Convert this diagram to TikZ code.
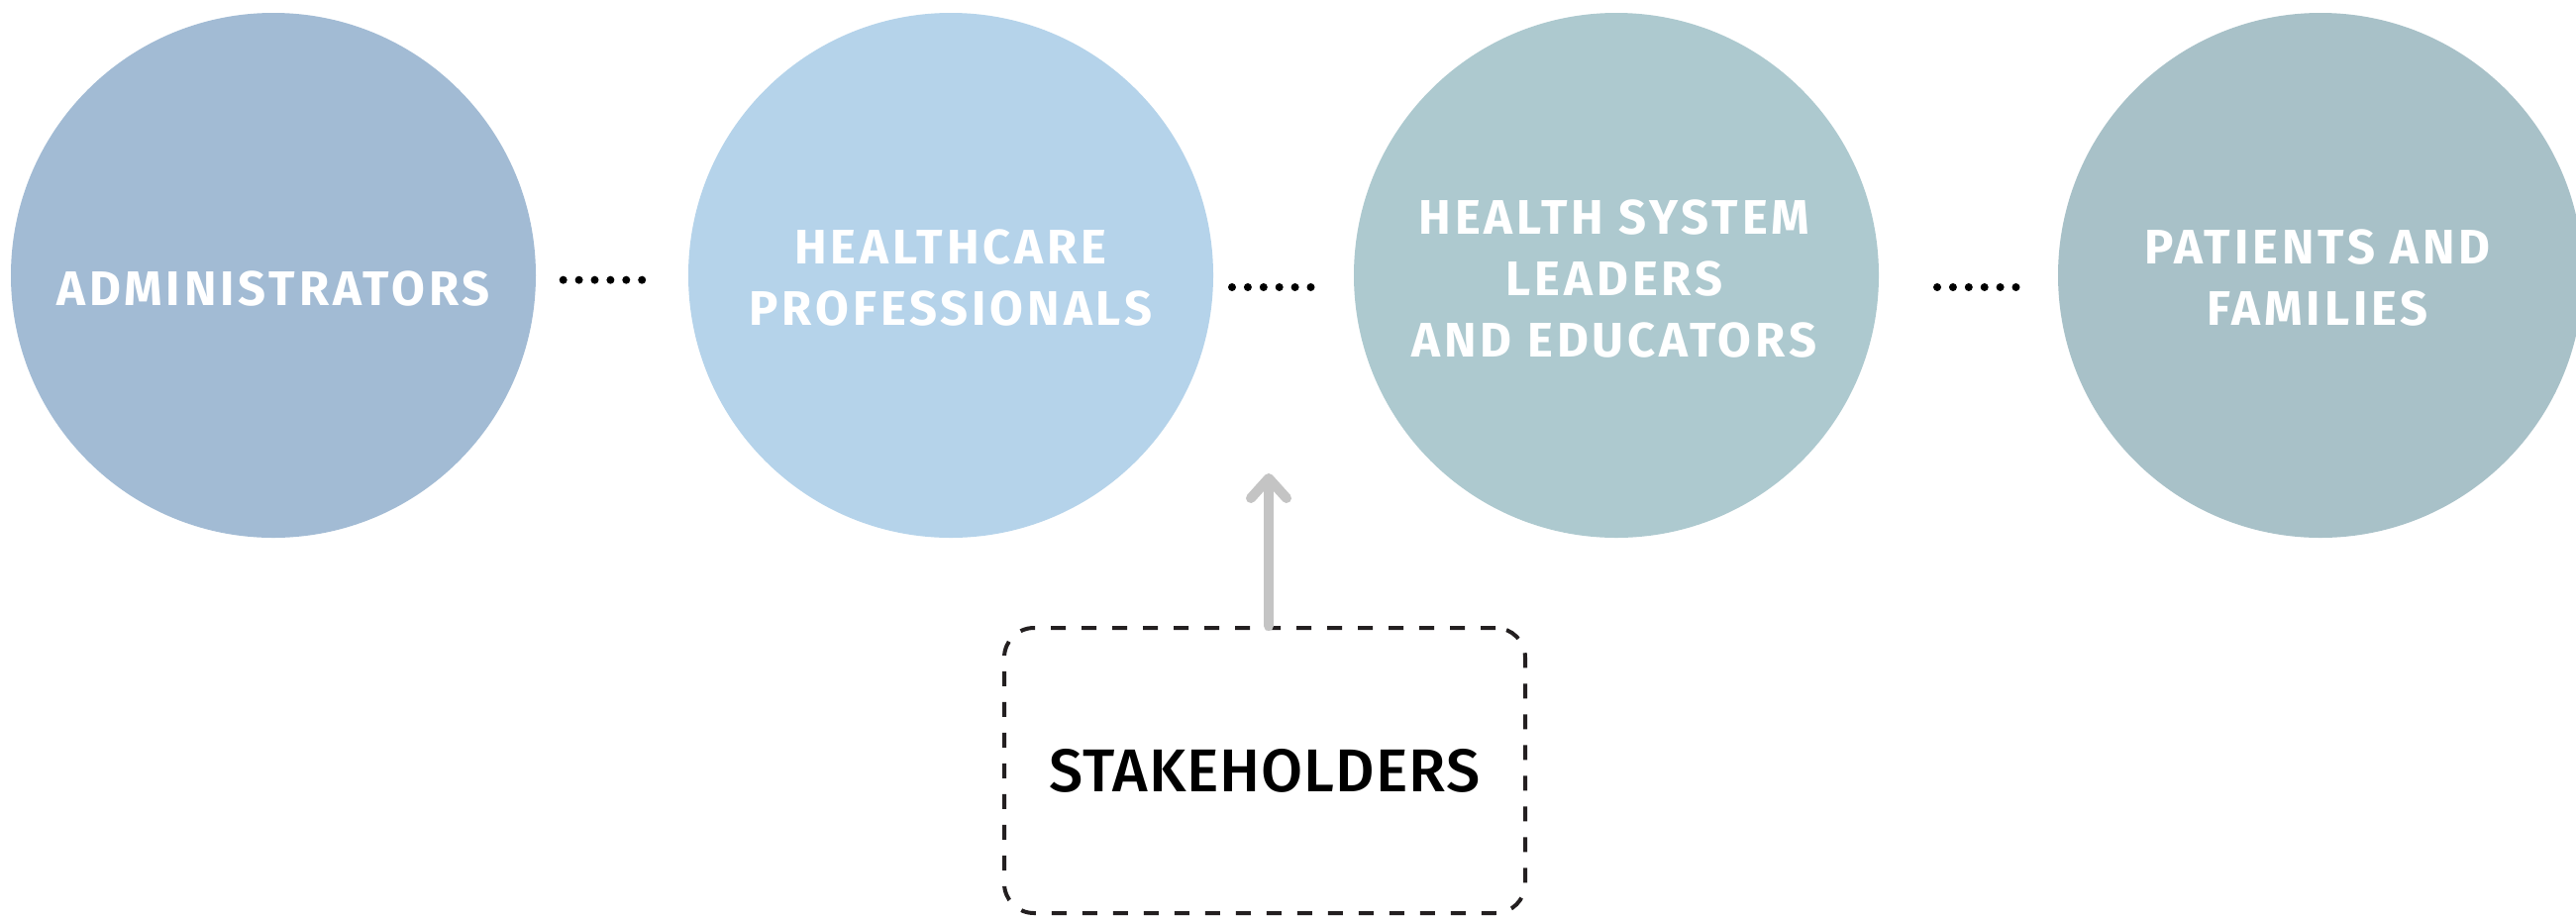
\documentclass[tikz,border=0pt]{standalone}
\usepackage{fontspec}
\setmainfont{Fira Sans}
\newfontfamily\circfont{Fira Sans}[LetterSpace=8]
\newfontfamily\stakefont{Fira Sans}[UprightFont=* Medium, LetterSpace=1.5]
\usetikzlibrary{arrows.meta}
\definecolor{cadmin}{HTML}{A2BBD4}
\definecolor{chealth}{HTML}{B5D3EA}
\definecolor{cleader}{HTML}{ADC9CF}
\definecolor{cpatient}{HTML}{A8C1C8}
\definecolor{arrowgray}{HTML}{C4C4C4}
\definecolor{dashdark}{HTML}{231F20}
\begin{document}
\begin{tikzpicture}[x=1pt,y=-1pt,
  bubble/.style={circle, minimum size=530pt, inner sep=0pt, draw=none},
  bubbletext/.style={text=white, font=\circfont\bfseries\fontsize{49}{62}\selectfont, align=center, inner sep=0pt},
  stakebox/.style={draw=dashdark, line width=4pt, dash pattern=on 15pt off 16pt, rounded corners=30pt,
    minimum width=526pt, minimum height=288pt, inner sep=0pt,
    font=\stakefont\fontsize{61}{70}\selectfont, text=black},
  arrowline/.style={draw=arrowgray, line width=10pt, line cap=round,
    -{Straight Barb[length=20pt, width=36pt, round]}},
  dotfill/.style={fill=black}
]
\useasboundingbox (0,0) rectangle (2601,930);
\clip (0,0) rectangle (2601,930);
\fill[white] (0,0) rectangle (2601,930);

\node[bubble, fill=cadmin]   (c1) at (276,278) {};
\node[bubble, fill=chealth]  (c2) at (960,278) {};
\node[bubble, fill=cleader]  (c3) at (1632,278) {};
\node[bubble, fill=cpatient] (c4) at (2343,278) {};

\node[bubbletext] (t1) at (276,292) {ADMINISTRATORS};
\node[bubbletext] (t2) at (960,281) {HEALTHCARE\\PROFESSIONALS};
\node[bubbletext] (t3) at (1630,282) {HEALTH SYSTEM\\LEADERS\\AND EDUCATORS};
\node[bubbletext] (t4) at (2340,281) {PATIENTS AND\\FAMILIES};

\foreach \i in {0,...,5} {
  \fill[dotfill] (568.7+15.9*\i,282.7) circle [radius=4];
  \fill[dotfill] (1244+15.9*\i,290) circle [radius=4];
  \fill[dotfill] (1956+15.9*\i,290) circle [radius=4];
}

\node[stakebox] (stake) at (1277,778) {STAKEHOLDERS};
\coordinate (tip) at (1281,478);
\draw[arrowline] ([xshift=4pt]stake.north) -- (tip);
\end{tikzpicture}
\end{document}
